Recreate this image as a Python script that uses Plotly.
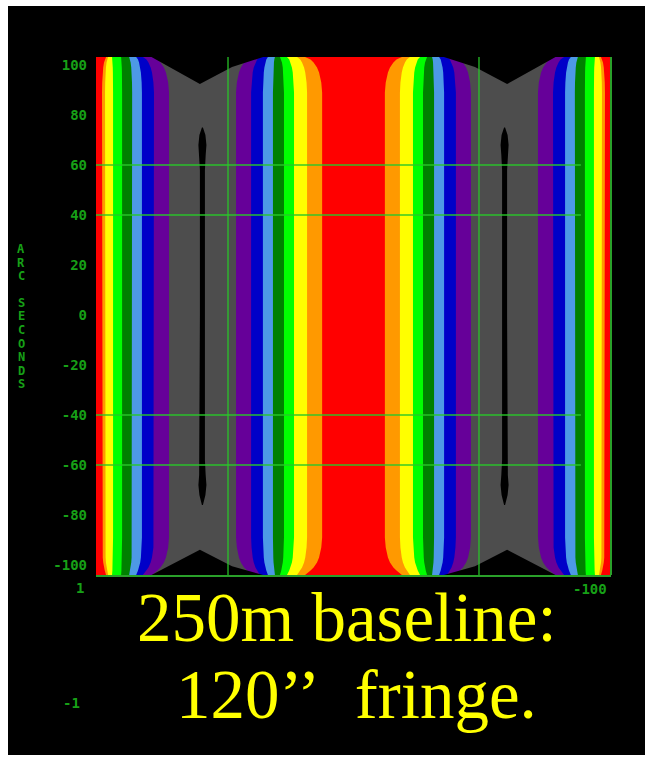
import plotly.graph_objects as go

# ---------------- data ----------------
X_RANGE = [-102.6, 102.6]          # arc seconds (plot extent)
Y_RANGE = [-104.0, 103.2]
Y_TICKS = [100, 80, 60, 40, 20, 0, -20, -40, -60, -80, -100]

BG_RED = "#ff0000"
BAND_NAMES = ["orange", "yellow", "green", "dark green", "light blue", "blue", "purple", "grey"]
BAND_COLORS = ["#ff9900", "#ffff00", "#00ff00", "#008000", "#4d99e6", "#0000c8", "#660099", "#4d4d4d"]

# band boundaries around the left fringe minimum (right one is its mirror)
OUTER_MID = [-100.2, -99.0, -95.8, -92.2, -88.2, -84.3, -79.5, -73.5]
INNER_MID = [-12.5, -18.5, -23.7, -27.7, -32.1, -36.1, -40.8, -46.8]
OUTER_TOP = [-98.6, -97.8, -96.2, -92.6, -89.4, -86.6, -83.9, -80.3]
INNER_TOP = [-19.3, -22.5, -26.5, -29.3, -31.3, -34.1, -37.3, -40.4]
CORNER_Y = [89, 93, 97, 99, 101, 102.2, 103.2]
CORNER_FRAC = [0, 0.05, 0.18, 0.3, 0.5, 0.68, 1.0]

# black zero-level regions
TRI_TOP_X = [-80.5, -61.2, -48.4, -36.0]
TRI_TOP_Y = [103.2, 92.4, 99.2, 103.2]
TRI_BOT_X = [-80.5, -61.2, -48.4, -36.0]
TRI_BOT_Y = [-104.0, -93.9, -100.5, -104.0]
LINE_CENTER = -60.2
LINE_Y = [75, 72, 68, 64, 58, 0, -58, -64, -68, -72, -76]
LINE_HALF = [0.2, 1.2, 1.6, 1.3, 1.0, 1.0, 1.0, 1.3, 1.6, 1.2, 0.2]

GRID_X = [-50, 50]
GRID_Y = [60, 40, -40, -60]
GRID_H_END = 90.6

TITLE_LINES = ["250m baseline:", "120\u2019\u2019\u00a0\u00a0fringe."]
Y_TITLE = "ARC SECONDS"
X_LEFT_LABEL = "1"
X_RIGHT_LABEL = "-100"
LOWER_LABEL = "-1"

GREEN_TXT = "#17a017"
GREEN_LINE = "rgba(40,200,40,0.7)"

# ---------------- geometry helpers ----------------
def boundary(mid, top):
    ys = CORNER_Y[::-1] + [-c for c in CORNER_Y[:-1]] + [Y_RANGE[0]]
    fs = CORNER_FRAC[::-1] + CORNER_FRAC
    xs = [mid + (top - mid) * f for f in fs]
    return xs, ys


def mirror(xs):
    return [None if v is None else -v for v in xs]


fig = go.Figure()

for k, col in enumerate(BAND_COLORS):
    ox, oy = boundary(OUTER_MID[k], OUTER_TOP[k])
    ix, iy = boundary(INNER_MID[k], INNER_TOP[k])
    px_ = ox + ix[::-1] + [ox[0]]
    py_ = oy + iy[::-1] + [oy[0]]
    fig.add_trace(go.Scatter(
        x=px_ + [None] + mirror(px_), y=py_ + [None] + py_,
        mode="lines", fill="toself", fillcolor=col, line=dict(width=0, color=col),
        hoverinfo="skip", name=BAND_NAMES[k]))

# black regions
bx, by = [], []
for tx, ty in ((TRI_TOP_X, TRI_TOP_Y), (TRI_BOT_X, TRI_BOT_Y)):
    poly_x = tx + [tx[0]]
    poly_y = ty + [ty[0]]
    bx += poly_x + [None] + mirror(poly_x) + [None]
    by += poly_y + [None] + poly_y + [None]
lx = [LINE_CENTER - h for h in LINE_HALF] + [LINE_CENTER + h for h in LINE_HALF[::-1]]
ly = LINE_Y + LINE_Y[::-1]
lx.append(lx[0]); ly.append(ly[0])
bx += lx + [None] + mirror(lx)
by += ly + [None] + ly
fig.add_trace(go.Scatter(x=bx, y=by, mode="lines", fill="toself", fillcolor="#000000",
                         line=dict(width=0, color="#000000"), hoverinfo="skip"))

# grid lines
gx, gy = [], []
for g in GRID_X:
    gx += [g, g, None]; gy += [Y_RANGE[0], Y_RANGE[1], None]
for g in GRID_Y:
    gx += [X_RANGE[0], GRID_H_END, None]; gy += [g, g, None]
fig.add_trace(go.Scatter(x=gx, y=gy, mode="lines", line=dict(width=1.8, color=GREEN_LINE),
                         hoverinfo="skip"))

# ---------------- layout (figure fills the whole 645x757 page) ----------------
FIG_W, FIG_H = 645, 757
PL, PR, PT, PB = 96, 611, 57, 575  # plot area in page pixels


def fx(xp):
    return (xp - PL) / (PR - PL)


def fy(yp):
    return (PB - yp) / (PB - PT)


mono = dict(family="DejaVu Sans Mono", size=14, color=GREEN_TXT, weight="bold")
mono_small = dict(family="DejaVu Sans Mono", size=12, color=GREEN_TXT, weight="bold")

annotations = []
for i, ch in enumerate(Y_TITLE):
    if ch == " ":
        continue
    annotations.append(dict(text=ch, x=fx(21), y=fy(249 + i * 13.5), xref="paper", yref="paper",
                            showarrow=False, xanchor="center", yanchor="middle", font=mono_small))

annotations += [
    dict(text=X_LEFT_LABEL, x=fx(80), y=fy(588), xref="paper", yref="paper",
         showarrow=False, xanchor="center", yanchor="middle", font=mono),
    dict(text=X_RIGHT_LABEL, x=fx(590), y=fy(589), xref="paper", yref="paper",
         showarrow=False, xanchor="center", yanchor="middle", font=mono),
    dict(text=LOWER_LABEL, x=fx(71), y=fy(703), xref="paper", yref="paper",
         showarrow=False, xanchor="center", yanchor="middle", font=mono),
    dict(text=TITLE_LINES[0], x=fx(347), y=fy(642 + 16), xref="paper", yref="paper",
         showarrow=False, xanchor="center", yanchor="bottom",
         font=dict(family="Liberation Serif", size=69, color="#ffff00")),
    dict(text=TITLE_LINES[1], x=fx(356.5), y=fy(719 + 16), xref="paper", yref="paper",
         showarrow=False, xanchor="center", yanchor="bottom",
         font=dict(family="Liberation Serif", size=69, color="#ffff00")),
]

# white frame strips of the reference image (left, top, bottom edges)
frame = [
    dict(type="rect", xref="paper", yref="paper", x0=fx(0), x1=fx(8), y0=fy(FIG_H), y1=fy(0),
         fillcolor="#ffffff", line=dict(width=0), layer="above"),
    dict(type="rect", xref="paper", yref="paper", x0=fx(0), x1=fx(FIG_W), y0=fy(6), y1=fy(0),
         fillcolor="#ffffff", line=dict(width=0), layer="above"),
    dict(type="rect", xref="paper", yref="paper", x0=fx(0), x1=fx(FIG_W), y0=fy(FIG_H), y1=fy(755),
         fillcolor="#ffffff", line=dict(width=0), layer="above"),
]

fig.update_layout(
    width=FIG_W, height=FIG_H,
    margin=dict(l=PL, r=FIG_W - PR, t=PT, b=FIG_H - PB, pad=0),
    paper_bgcolor="#000000", plot_bgcolor=BG_RED,
    showlegend=False,
    xaxis=dict(range=X_RANGE, showgrid=False, zeroline=False, showticklabels=False, ticks="",
               showline=True, linecolor="#2aa02a", linewidth=2, fixedrange=True),
    yaxis=dict(range=Y_RANGE, showgrid=False, zeroline=False, tickvals=Y_TICKS,
               ticktext=[str(v) for v in Y_TICKS], ticks="", ticklabelstandoff=8,
               tickfont=mono, showline=False, fixedrange=True),
    annotations=annotations,
    shapes=[dict(type="line", xref="paper", yref="paper", x0=1, x1=1, y0=0, y1=1,
                 line=dict(color="#2aa02a", width=2))] + frame,
)

fig.write_html("out.html", config={"displayModeBar": False},
               post_script="document.body.style.margin='0px';")
